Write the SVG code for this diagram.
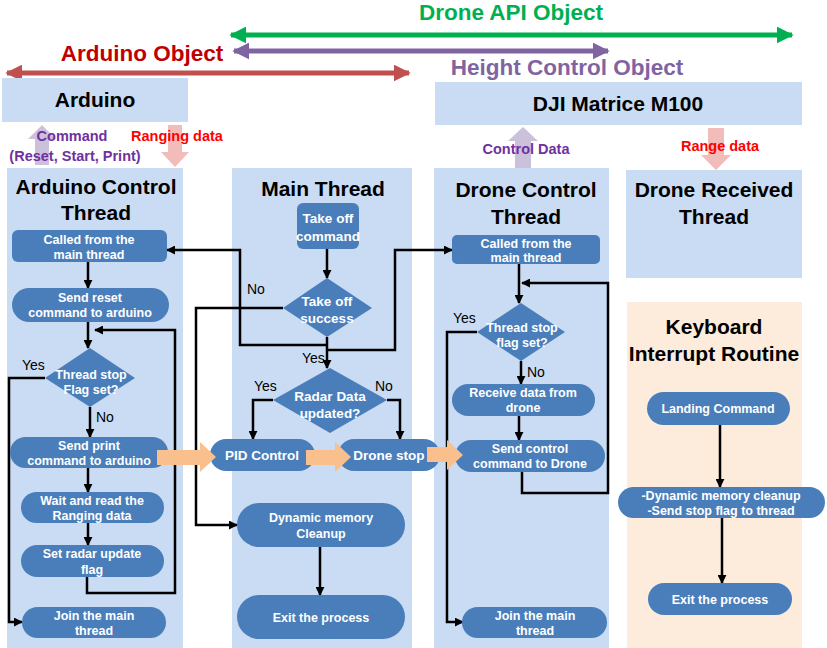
<svg xmlns="http://www.w3.org/2000/svg" width="827" height="648" viewBox="0 0 827 648">
<defs>
<style>
.lane{fill:#c9dcf3}
.peach{fill:#fdebdb}
.node{fill:#4a7ebb}
.nt{font-family:"Liberation Sans",Arial,sans-serif;font-weight:bold;font-size:12.5px;fill:#fff;text-anchor:middle}
.title{font-family:"Liberation Sans",Arial,sans-serif;font-weight:bold;font-size:21px;fill:#000;text-anchor:middle}
.lbl{font-family:"Liberation Sans",Arial,sans-serif;font-size:14px;fill:#000}
.con{fill:none;stroke:#000;stroke-width:2.5}
.big{font-family:"Liberation Sans",Arial,sans-serif;font-weight:bold;font-size:22.5px;text-anchor:middle}
.sm{font-family:"Liberation Sans",Arial,sans-serif;font-weight:bold;font-size:14.5px}
.fat{fill:#f9bf8d}
</style>
<marker id="ah" viewBox="0 0 10 10" refX="9" refY="5" markerWidth="9" markerHeight="9" markerUnits="userSpaceOnUse" orient="auto"><path d="M0,0 L10,5 L0,10 z" fill="#000"/></marker>
<marker id="hg" viewBox="0 0 10 10" refX="9" refY="5" markerWidth="17" markerHeight="17" markerUnits="userSpaceOnUse" orient="auto-start-reverse"><path d="M0,0 L10,5 L0,10 z" fill="#00b050"/></marker>
<marker id="hp" viewBox="0 0 10 10" refX="9" refY="5" markerWidth="17" markerHeight="17" markerUnits="userSpaceOnUse" orient="auto-start-reverse"><path d="M0,0 L10,5 L0,10 z" fill="#8064a2"/></marker>
<marker id="hr" viewBox="0 0 10 10" refX="9" refY="5" markerWidth="17" markerHeight="17" markerUnits="userSpaceOnUse" orient="auto-start-reverse"><path d="M0,0 L10,5 L0,10 z" fill="#c0504d"/></marker>
</defs>

<g id="scope-arrows">
<line x1="231" y1="35" x2="792" y2="35" stroke="#00b050" stroke-width="5" marker-start="url(#hg)" marker-end="url(#hg)"/>
<line x1="234" y1="51" x2="608" y2="51" stroke="#8064a2" stroke-width="5" marker-start="url(#hp)" marker-end="url(#hp)"/>
<line x1="7" y1="73" x2="409" y2="73" stroke="#c0504d" stroke-width="5" marker-start="url(#hr)" marker-end="url(#hr)"/>
<text class="big" x="511" y="20" fill="#00b050">Drone API Object</text>
<text class="big" x="142" y="61" fill="#c00000">Arduino Object</text>
<text class="big" x="567" y="75" fill="#8064a2">Height Control Object</text>
</g>

<g id="arduino">
<rect x="2" y="78" width="186" height="44" class="lane"/>
<text class="title" x="95" y="107">Arduino</text>
</g>
<g id="dji">
<rect x="435" y="82" width="367" height="43" class="lane"/>
<text class="title" x="618" y="111">DJI Matrice M100</text>
</g>

<g id="data-arrows">
<polygon points="35,165 35,139 28,139 42,125 56,139 49,139 49,165" fill="#ccc1da"/>
<polygon points="168,125 168,152 161,152 175,167 189,152 182,152 182,125" fill="#f2bcbb"/>
<polygon points="515,170 515,141 508,141 523,127 538,141 531,141 531,170" fill="#ccc1da"/>
<polygon points="708,128 708,155 701,155 716,170 731,155 724,155 724,128" fill="#f2bcbb"/>
<text class="sm" fill="#7030a0" text-anchor="middle"><tspan x="72" y="141">Command</tspan><tspan x="75" y="161">(Reset, Start, Print)</tspan></text>
<text class="sm" x="177" y="141" fill="#ff0000" text-anchor="middle">Ranging data</text>
<text class="sm" x="526" y="154" fill="#7030a0" text-anchor="middle">Control Data</text>
<text class="sm" x="720" y="151" fill="#ff0000" text-anchor="middle">Range data</text>
</g>

<g id="lane-arduino-control">
<rect x="7" y="168" width="176" height="480" class="lane"/>
<text class="title"><tspan x="96" y="194">Arduino Control</tspan><tspan x="96" y="220">Thread</tspan></text>
</g>
<g id="lane-main">
<rect x="232" y="168" width="180" height="480" class="lane"/>
<text class="title" x="323" y="196">Main Thread</text>
</g>
<g id="lane-drone-control">
<rect x="434" y="168" width="175" height="480" class="lane"/>
<text class="title"><tspan x="526" y="197">Drone Control</tspan><tspan x="526" y="224">Thread</tspan></text>
</g>
<g id="lane-drone-received">
<rect x="626" y="170" width="176" height="108" class="lane"/>
<text class="title"><tspan x="714" y="197">Drone Received</tspan><tspan x="714" y="224">Thread</tspan></text>
</g>
<g id="lane-keyboard">
<rect x="627" y="302" width="175" height="346" class="peach"/>
<text class="title"><tspan x="714" y="334">Keyboard</tspan><tspan x="714" y="361">Interrupt Routine</tspan></text>
</g>

<g id="connectors">
<path class="con" d="M88,262 V288" marker-end="url(#ah)"/>
<path class="con" d="M88,322 V348" marker-end="url(#ah)"/>
<path class="con" d="M87,577 V593 H175 V330 H95" marker-end="url(#ah)"/>
<path class="con" d="M45,378 H9 V622 H22" marker-end="url(#ah)"/>
<path class="con" d="M90,407 V437" marker-end="url(#ah)"/>
<path class="con" d="M88,468 V492" marker-end="url(#ah)"/>
<path class="con" d="M88,523 V545" marker-end="url(#ah)"/>
<path class="con" d="M327,249 V278" marker-end="url(#ah)"/>
<path class="con" d="M283,308 H196 V525 H237" marker-end="url(#ah)"/>
<path class="con" d="M327,337 V368" marker-end="url(#ah)"/>
<path class="con" d="M327,345 H240 V250 H167" marker-end="url(#ah)"/>
<path class="con" d="M327,350 H395 V250 H452" marker-end="url(#ah)"/>
<path class="con" d="M273,400 H253 V439" marker-end="url(#ah)"/>
<path class="con" d="M387,400 H400 V439" marker-end="url(#ah)"/>
<path class="con" d="M320,547 V595" marker-end="url(#ah)"/>
<path class="con" d="M519,264 V303" marker-end="url(#ah)"/>
<path class="con" d="M522,472 V493 H608 V283 H522" marker-end="url(#ah)"/>
<path class="con" d="M477,332 H447 V622 H463" marker-end="url(#ah)"/>
<path class="con" d="M521,361 V384" marker-end="url(#ah)"/>
<path class="con" d="M519,416 V440" marker-end="url(#ah)"/>
<path class="con" d="M720,425 V487" marker-end="url(#ah)"/>
<path class="con" d="M722,518 V583" marker-end="url(#ah)"/>
<text class="lbl" x="22" y="370">Yes</text>
<text class="lbl" x="96" y="422">No</text>
<text class="lbl" x="247" y="294">No</text>
<text class="lbl" x="302" y="363">Yes</text>
<text class="lbl" x="254" y="391">Yes</text>
<text class="lbl" x="375" y="391">No</text>
<text class="lbl" x="453" y="323">Yes</text>
<text class="lbl" x="527" y="377">No</text>
</g>

<g id="n-a-called"><rect x="12" y="230" width="155" height="32" rx="6" class="node"/><text class="nt"><tspan x="89" y="244">Called from the</tspan><tspan x="89" y="259">main thread</tspan></text></g>
<g id="n-a-reset"><rect x="12" y="288" width="157" height="34" rx="17" class="node"/><text class="nt"><tspan x="90" y="302">Send reset</tspan><tspan x="90" y="317">command to arduino</tspan></text></g>
<g id="n-a-stop"><polygon points="90,348 135,378 90,407 45,378" class="node"/><text class="nt"><tspan x="91" y="379">Thread stop</tspan><tspan x="91" y="394">Flag set?</tspan></text></g>
<g id="n-a-print"><rect x="10" y="437" width="158" height="31" rx="15.5" class="node"/><text class="nt"><tspan x="89" y="450">Send print</tspan><tspan x="89" y="465">command to arduino</tspan></text></g>
<g id="n-a-wait"><rect x="21" y="492" width="143" height="31" rx="15.5" class="node"/><text class="nt"><tspan x="92" y="505">Wait and read the</tspan><tspan x="92" y="520">Ranging data</tspan></text></g>
<g id="n-a-set"><rect x="21" y="545" width="143" height="32" rx="16" class="node"/><text class="nt"><tspan x="92" y="558">Set radar update</tspan><tspan x="92" y="574">flag</tspan></text></g>
<g id="n-a-join"><rect x="22" y="607" width="144" height="31" rx="15.5" class="node"/><text class="nt"><tspan x="94" y="620">Join the main</tspan><tspan x="94" y="635">thread</tspan></text></g>

<g id="n-m-takeoff"><rect x="297" y="203" width="62" height="46" rx="6" class="node"/><text class="nt" style="font-size:13.5px"><tspan x="328" y="223">Take off</tspan><tspan x="328" y="241">command</tspan></text></g>
<g id="n-m-success"><polygon points="327,278 372,308 327,337 283,308" class="node"/><text class="nt" style="font-size:13.5px"><tspan x="327" y="306">Take off</tspan><tspan x="327" y="323">success</tspan></text></g>
<g id="n-m-radar"><polygon points="330,368 387,400 330,433 273,400" class="node"/><text class="nt" style="font-size:13.5px"><tspan x="330" y="401">Radar Data</tspan><tspan x="330" y="418">updated?</tspan></text></g>
<g id="n-m-pid"><rect x="210" y="439" width="105" height="32" rx="16" class="node"/><text class="nt" x="262" y="460" style="font-size:13.5px">PID Control</text></g>
<g id="n-m-stop"><rect x="338" y="439" width="102" height="32" rx="16" class="node"/><text class="nt" x="389" y="460" style="font-size:13.5px">Drone stop</text></g>
<g id="n-m-cleanup"><rect x="237" y="503" width="168" height="44" rx="22" class="node"/><text class="nt"><tspan x="321" y="522">Dynamic memory</tspan><tspan x="321" y="538">Cleanup</tspan></text></g>
<g id="n-m-exit"><rect x="237" y="595" width="168" height="44" rx="22" class="node"/><text class="nt" x="321" y="622">Exit the process</text></g>

<g id="n-d-called"><rect x="452" y="235" width="148" height="29" rx="5" class="node"/><text class="nt"><tspan x="526" y="248">Called from the</tspan><tspan x="526" y="262">main thread</tspan></text></g>
<g id="n-d-stop"><polygon points="521,303 565,332 521,361 477,332" class="node"/><text class="nt"><tspan x="522" y="332">Thread stop</tspan><tspan x="522" y="347">flag set?</tspan></text></g>
<g id="n-d-receive"><rect x="452" y="384" width="143" height="32" rx="16" class="node"/><text class="nt"><tspan x="523" y="397">Receive data from</tspan><tspan x="523" y="412">drone</tspan></text></g>
<g id="n-d-send"><rect x="455" y="440" width="150" height="32" rx="16" class="node"/><text class="nt"><tspan x="530" y="453">Send control</tspan><tspan x="530" y="468">command to Drone</tspan></text></g>
<g id="n-d-join"><rect x="462" y="607" width="145" height="31" rx="15.5" class="node"/><text class="nt"><tspan x="535" y="620">Join the main</tspan><tspan x="535" y="635">thread</tspan></text></g>

<g id="n-k-landing"><rect x="647" y="392" width="143" height="33" rx="16.5" class="node"/><text class="nt" x="718" y="413">Landing Command</text></g>
<g id="n-k-cleanup"><rect x="618" y="487" width="207" height="31" rx="15.5" class="node"/><text class="nt"><tspan x="721" y="500">-Dynamic memory cleanup</tspan><tspan x="721" y="515">-Send stop flag to thread</tspan></text></g>
<g id="n-k-exit"><rect x="648" y="583" width="144" height="32" rx="16" class="node"/><text class="nt" x="720" y="604">Exit the process</text></g>

<g id="fat-arrows">
<polygon points="157,450 200,450 200,442 216,457 200,472 200,465 157,465" class="fat"/>
<polygon points="306,450 335,450 335,442 351,457 335,472 335,465 306,465" class="fat"/>
<polygon points="427,447 447,447 447,440 463,455 447,470 447,462 427,462" class="fat"/>
</g>
</svg>
